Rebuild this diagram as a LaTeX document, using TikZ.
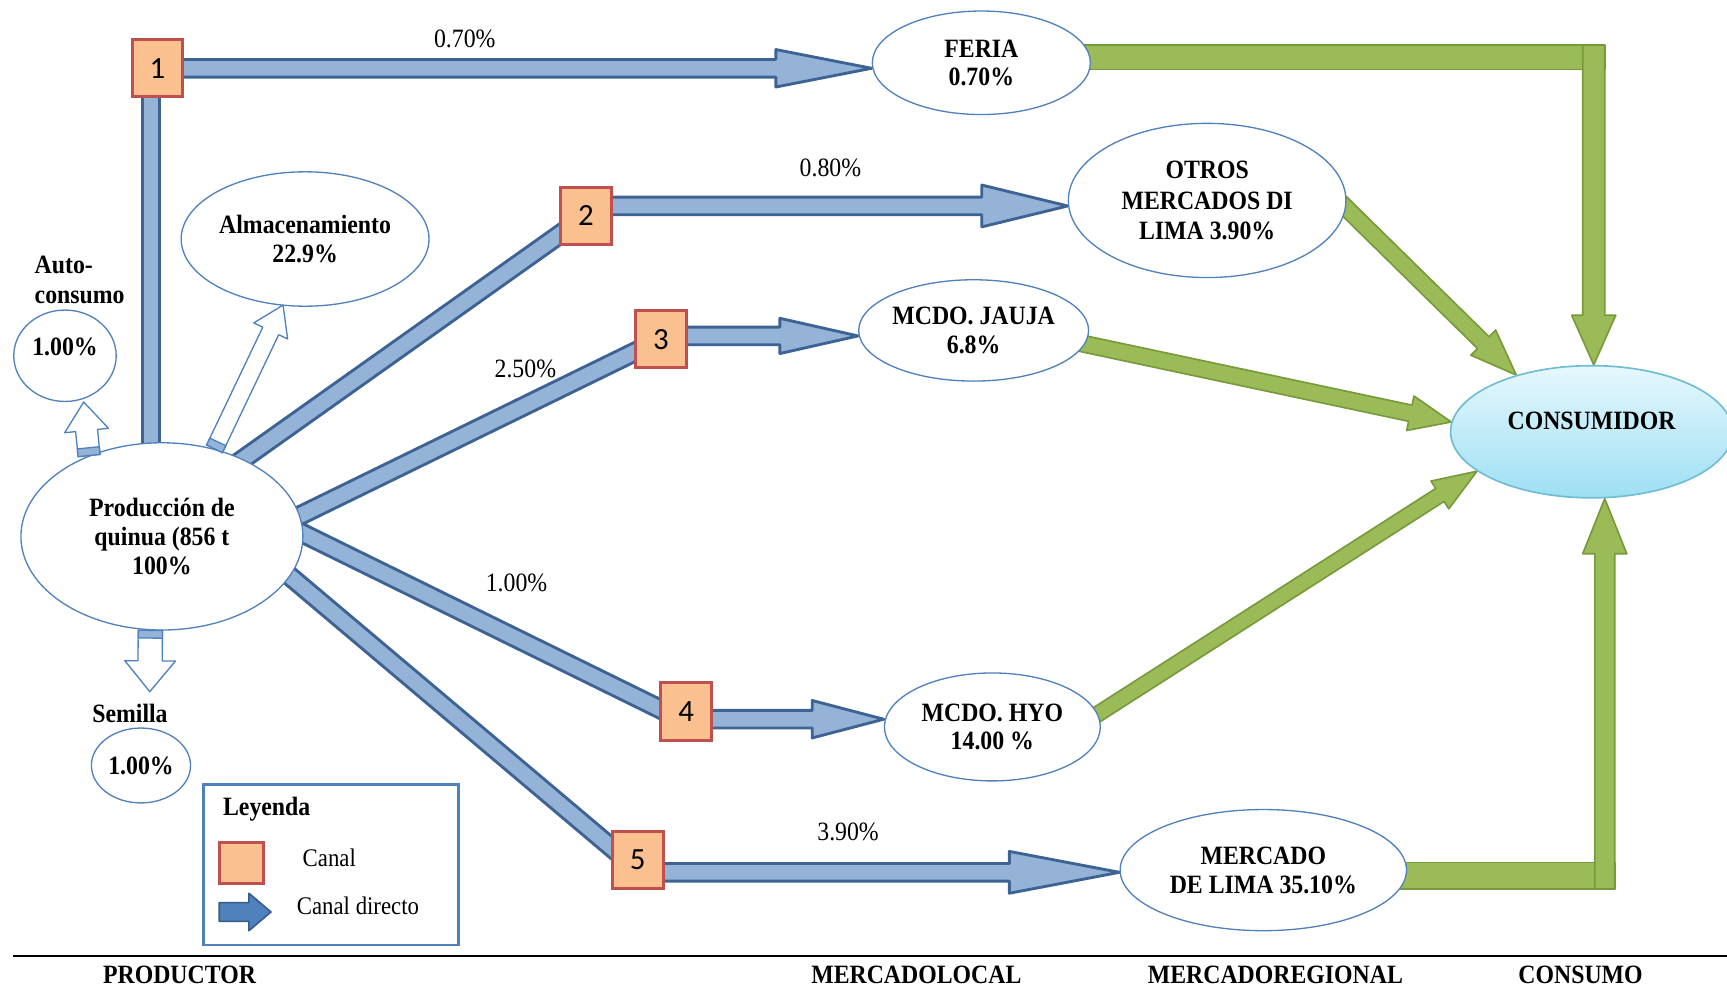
\documentclass[tikz,border=0pt]{standalone}
\usepackage{fontspec}
\setmainfont{Liberation Serif}[FakeStretch=0.9]
\newfontfamily\numfont{Carlito}
\usetikzlibrary{calc,shapes.geometric}

\definecolor{bandfill}{HTML}{95B3D7}
\definecolor{banddraw}{HTML}{3D6394}
\definecolor{greenfill}{HTML}{9BBB59}
\definecolor{greendraw}{HTML}{779A3A}
\definecolor{ovaldraw}{HTML}{4F81BD}
\definecolor{boxfill}{HTML}{FAC090}
\definecolor{boxdraw}{HTML}{C0504D}
\definecolor{constop}{HTML}{E6F8FD}
\definecolor{consbot}{HTML}{9EDFF3}
\definecolor{consdraw}{HTML}{6FBCD3}
\definecolor{legarrow}{HTML}{4F81BD}
\definecolor{legarrowdraw}{HTML}{385D8A}

\pgfdeclarelayer{back}
\pgfsetlayers{back,main}

% wide arrow with outline: style, tail, tip, half shaft, half head, head length
\newcommand{\fatarrow}[6]{%
  \coordinate (fa-base) at ($(#3)!#6pt!(#2)$);
  \path[#1] ($(#2)!#4pt!90:(#3)$) -- ($(fa-base)!#4pt!90:(#3)$)
    -- ($(fa-base)!#5pt!90:(#3)$) -- (#3)
    -- ($(fa-base)!#5pt!-90:(#3)$) -- ($(fa-base)!#4pt!-90:(#3)$)
    -- ($(#2)!#4pt!-90:(#3)$) -- cycle;}
% wide band with outline: style, start, end, half width
\newcommand{\fatband}[4]{%
  \path[#1] ($(#2)!#4pt!90:(#3)$) -- ($(#3)!#4pt!-90:(#2)$)
    -- ($(#3)!#4pt!90:(#2)$) -- ($(#2)!#4pt!-90:(#3)$) -- cycle;}

\begin{document}
\begin{tikzpicture}[x=1pt,y=-1pt,
  oval/.style={ellipse, draw=ovaldraw, line width=1.2pt, fill=white, inner sep=0pt,
    align=center, font=\bfseries\fontsize{24}{26}\selectfont},
  chan/.style={draw=boxdraw, fill=boxfill, line width=2.8pt, minimum width=46pt,
    minimum height=52pt, inner sep=0pt, font=\numfont\fontsize{28}{30}\selectfont},
  blueband/.style={fill=bandfill, draw=banddraw, line width=2.6pt, line join=round},
  greenband/.style={fill=greenfill, draw=greendraw, line width=1.5pt, line join=round},
  hollow/.style={fill=white, draw=ovaldraw, line width=1.2pt, line join=round},
  patch/.style={fill=bandfill, draw=ovaldraw, line width=1.2pt},
  pct/.style={font=\fontsize{24}{26}\selectfont},
  tag/.style={font=\bfseries\fontsize{24}{27}\selectfont},
  plain/.style={font=\fontsize{23}{26}\selectfont}]
\useasboundingbox (0,0) rectangle (1568,897);

% ---------- producer side ----------
\node[oval, minimum width=256pt, minimum height=170pt] (prod) at (147,487)
  {Producción de\\quinua (856 t\\100\%};
\node[oval, minimum width=225pt, minimum height=122pt] (alm) at (277,217)
  {Almacenamiento\\22.9\%};
\node[oval, minimum width=93pt, minimum height=83pt] (auto) at (59,323) {};
\node[tag] (auto-pct) at (59,315) {1.00\%};
\node[tag, anchor=west, align=left] (auto-lbl) at (28,254) {Auto-\\consumo};
\node[oval, minimum width=90pt, minimum height=68pt] (sem) at (128,695) {1.00\%};
\node[tag] (sem-lbl) at (118,648) {Semilla};

% ---------- markets and consumer ----------
\node[oval, minimum width=198pt, minimum height=94pt] (feria) at (891,57) {FERIA\\0.70\%};
\node[oval, minimum width=252pt, minimum height=140pt,
  font=\bfseries\fontsize{24}{28}\selectfont] (otros) at (1096,182)
  {OTROS\\MERCADOS DI\\LIMA 3.90\%};
\node[oval, minimum width=204pt, minimum height=92pt] (jauja) at (884,300) {MCDO. JAUJA\\6.8\%};
\node[oval, minimum width=196pt, minimum height=98pt] (hyo) at (901,660) {MCDO. HYO\\14.00 \%};
\node[oval, minimum width=260pt, minimum height=110pt] (lima) at (1147,790)
  {MERCADO\\DE LIMA 35.10\%};
\node[ellipse, draw=consdraw, top color=constop, bottom color=consbot, line width=1.5pt,
  minimum width=256pt, minimum height=120pt] (cons) at (1445,392) {};
\node[tag] (cons-txt) at (1445,382) {CONSUMIDOR};

% ---------- channel boxes ----------
\node[chan] (box1) at (143,62) {1};
\node[chan] (box2) at (532,196) {2};
\node[chan] (box3) at (600,308) {3};
\node[chan] (box4) at (623,646) {4};
\node[chan] (box5) at (579,781) {5};

% ---------- flow labels ----------
\node[pct] (p1) at (422,35) {0.70\%};
\node[pct] (p2) at (754,152) {0.80\%};
\node[pct] (p3) at (477,335) {2.50\%};
\node[pct] (p4) at (469,529) {1.00\%};
\node[pct] (p5) at (770,755) {3.90\%};

% ---------- coordinates for the routes ----------
\coordinate (b1s) at (137,450);  \coordinate (b1e) at (137,62);
\coordinate (b2s) at (205,428);
\coordinate (b3s) at (250,479);
\coordinate (b4s) at (260,477);  \coordinate (b4e) at (612,650);
\coordinate (b5s) at (250,512);  \coordinate (b5e) at (570,782);

\coordinate (a2s) at ($(box2.center)+(0,-9)$);
\coordinate (a3s) at ($(box3.center)+(0,-3)$);
\coordinate (a4s) at ($(box4.center)+(0,7)$);
\coordinate (a5s) at ($(box5.center)+(0,11)$);
\coordinate (a1t) at (box1.center -| feria.west);
\coordinate (a2t) at (a2s -| otros.west);
\coordinate (a3t) at (a3s -| jauja.west);
\coordinate (a4t) at (a4s -| hyo.west);
\coordinate (a5t) at (a5s -| lima.west);

\coordinate (g2s) at ($(otros.-3)!-15pt!(cons.143)$);
\coordinate (g3s) at ($(jauja.-7)!-15pt!(cons.176)$);
\coordinate (g4s) at ($(hyo.7)!-15pt!(cons.199)$);

\coordinate (fk) at (1447,52);
\coordinate (fk-start) at (feria.center |- fk);
\coordinate (fk-end) at (1457,52);
\coordinate (fk-top) at (1447,41);
\coordinate (fk-tip) at (fk |- cons.north);
\coordinate (lk) at (1457,795);
\coordinate (lk-start) at (lima.center |- lk);
\coordinate (lk-end) at (1466,795);
\coordinate (lk-bot) at (1457,807);
\coordinate (lk-tip) at (lk |- cons.south);

\begin{pgfonlayer}{back}
  % producer to channels
  \fatband{blueband}{b1s}{b1e}{8}
  \fatband{blueband}{b2s}{box2.center}{8}
  \fatband{blueband}{b3s}{box3.center}{8}
  \fatband{blueband}{b4s}{b4e}{8}
  \fatband{blueband}{b5s}{b5e}{8}
  % channels to markets
  \fatarrow{blueband}{box1.center}{a1t}{8}{17}{87}
  \fatarrow{blueband}{a2s}{a2t}{8}{19}{78}
  \fatarrow{blueband}{a3s}{a3t}{8}{16}{71}
  \fatarrow{blueband}{a4s}{a4t}{8}{17}{65}
  \fatarrow{blueband}{a5s}{a5t}{8}{19}{100}
  % markets to consumer
  \fatband{greenband}{fk-start}{fk-end}{11}
  \fatarrow{greenband}{fk-top}{fk-tip}{10}{20}{45}
  \fatarrow{greenband}{g2s}{cons.143}{7.5}{16}{42}
  \fatarrow{greenband}{g3s}{cons.176}{7.5}{16}{38}
  \fatarrow{greenband}{g4s}{cons.199}{7}{15}{40}
  \fatband{greenband}{lk-start}{lk-end}{12}
  \fatarrow{greenband}{lk-bot}{lk-tip}{9}{20}{50}
\end{pgfonlayer}

% ---------- outflows of the production ----------
\coordinate (alm-tip) at (257,277);
\coordinate (auto-tip) at (76,365);
\coordinate (sem-tip) at (136,628);
\fatarrow{hollow}{prod.59}{alm-tip}{8}{17}{26}
\fatarrow{hollow}{prod.132}{auto-tip}{10}{20}{26}
\fatarrow{hollow}{prod.263}{sem-tip}{11}{23}{28}
\coordinate (alm-patch) at ($(prod.59)!7pt!(alm-tip)$);
\coordinate (auto-patch) at ($(prod.132)!7pt!(auto-tip)$);
\coordinate (sem-patch) at ($(prod.263)!7pt!(sem-tip)$);
\fatband{patch}{prod.59}{alm-patch}{8}
\fatband{patch}{prod.132}{auto-patch}{10}
\fatband{patch}{prod.263}{sem-patch}{11}

% ---------- legend ----------
\node[draw=ovaldraw, line width=2.5pt, minimum width=231pt, minimum height=146pt,
  inner sep=0pt] (legend) at (300.5,785) {};
\node[tag, anchor=west] (leg-title) at (199,735) {Leyenda};
\node[chan, minimum width=40pt, minimum height=37pt] (leg-box) at (219,783.5) {};
\node[plain] (leg-canal) at (299,779) {Canal};
\coordinate (leg-a1) at (199,828);
\coordinate (leg-a2) at (246,828);
\fatarrow{fill=legarrow, draw=legarrowdraw, line width=1.5pt, line join=round}{leg-a1}{leg-a2}{8.5}{17}{20}
\node[plain] (leg-direct) at (325,822) {Canal directo};

% ---------- stage axis ----------
\coordinate (rule-l) at (12,868);
\coordinate (rule-r) at (1568,868);
\draw[line width=1.5pt] (rule-l) -- (rule-r);
\node[tag] (st1) at (163,885) {PRODUCTOR};
\node[tag] (st2) at (832,885) {MERCADOLOCAL};
\node[tag] (st3) at (1158,885) {MERCADOREGIONAL};
\node[tag] (st4) at (1435,885) {CONSUMO};
\end{tikzpicture}
\end{document}
